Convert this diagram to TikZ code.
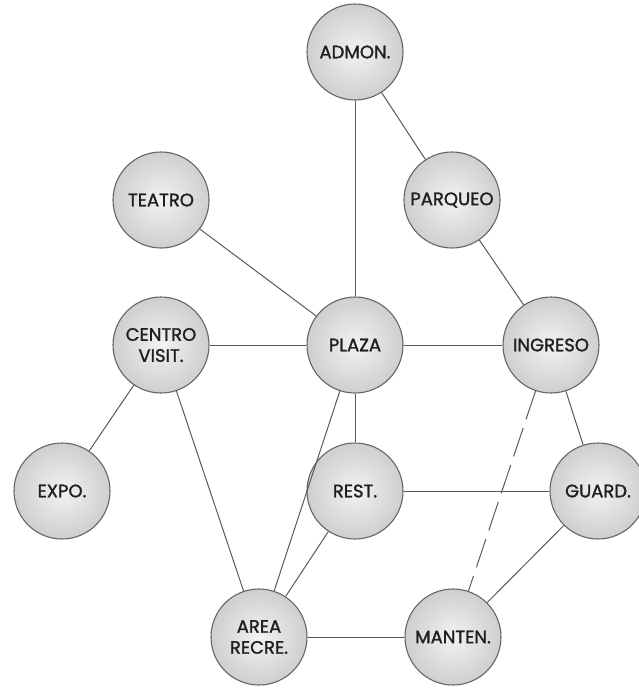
\documentclass[tikz,border=0pt]{standalone}
\usepackage{fontspec}
\setmainfont{Poppins}
\newfontfamily\lblfont[FakeBold=1.4]{Poppins}
\begin{document}
\begin{tikzpicture}[x=1pt,y=-1pt,
  bub/.style={circle, minimum size=96pt, inner sep=0pt, draw=black!60, line width=1.1pt,
    inner color=black!5, outer color=black!19, font=\lblfont\fontsize{18}{21}\selectfont, align=center, text=black!88},
  link/.style={draw=black!65, line width=1pt},
  dlink/.style={link, dash pattern=on 30pt off 9pt}]
\useasboundingbox (0,0) rectangle (639,689);
\node[bub] (adm) at (355,52) {ADMON.};
\node[bub] (tea) at (161,200) {TEATRO};
\node[bub] (par) at (452,200) {PARQUEO};
\node[bub] (cen) at (161,345) {CENTRO\\VISIT.};
\node[bub] (pla) at (355,345) {PLAZA};
\node[bub] (ing) at (551,345) {INGRESO};
\node[bub] (exp) at (62,491) {EXPO.};
\node[bub] (res) at (355,491) {REST.};
\node[bub] (gua) at (598,491) {GUARD.};
\node[bub] (are) at (259,637) {AREA\\RECRE.};
\node[bub] (man) at (453,637) {MANTEN.};
\path[link] (adm) -- (pla);
\path[link] (adm) -- (par);
\path[link] (par) -- (ing);
\path[link] (tea) -- (pla);
\path[link] (cen) -- (pla);
\path[link] (pla) -- (ing);
\path[link] (cen) -- (exp);
\path[link] (cen) -- (are);
\path[link] (pla) -- (res);
\path[link] (pla) -- (are);
\path[link] (res) -- (are);
\path[link] (res) -- (gua);
\path[link] (ing) -- (gua);
\path[dlink] (ing) -- (man);
\path[link] (gua) -- (man);
\path[link] (are) -- (man);
\end{tikzpicture}
\end{document}
